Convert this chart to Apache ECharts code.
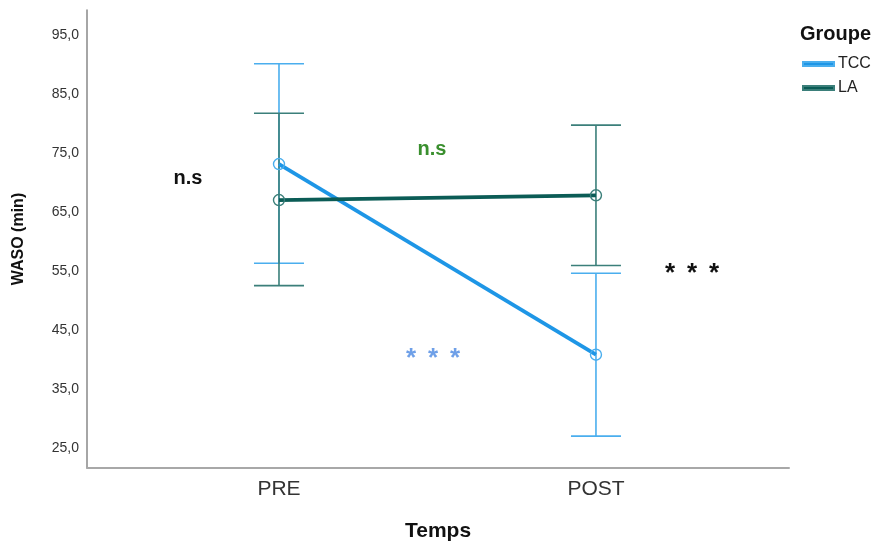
<!DOCTYPE html>
<html><head><meta charset="utf-8">
<script src="https://cdn.jsdelivr.net/npm/echarts@6/dist/echarts.min.js"></script>
<style>html,body{margin:0;padding:0;background:#fff}#c{width:876px;height:546px}</style>
</head><body><div id="c"></div>
<script>
var categories = ['PRE', 'POST'];
var catPos = [1, 2];
var groups = ['TCC', 'LA'];
var tccMean = [73.1, 40.8];
var tccLow = [56.3, 27.0];
var tccHigh = [90.1, 54.6];
var laMean = [67.0, 67.8];
var laLow = [52.5, 55.9];
var laHigh = [81.7, 79.7];
var yTicks = [25, 35, 45, 55, 65, 75, 85, 95];

var TCC_LINE = '#1e96e6', TCC_BAR = '#4aaeee';
var LA_LINE = '#0b5c56', LA_BAR = '#3b7f7a';
var FONT = 'Liberation Sans, Arial, sans-serif';

function errData(low, high) {
  return catPos.map(function (x, i) { return [x, low[i], high[i]]; });
}
function errSeries(name, low, high, color) {
  return {
    type: 'custom', name: name + ' err', z: 2, silent: true,
    data: errData(low, high),
    encode: { x: 0, y: [1, 2] },
    renderItem: function (params, api) {
      var x = api.value(0);
      var lo = api.coord([x, api.value(1)]);
      var hi = api.coord([x, api.value(2)]);
      var hw = 25;
      var st = { stroke: color, lineWidth: 1.6 };
      return { type: 'group', children: [
        { type: 'line', shape: { x1: lo[0], y1: lo[1], x2: hi[0], y2: hi[1] }, style: st },
        { type: 'line', shape: { x1: lo[0] - hw, y1: lo[1], x2: lo[0] + hw, y2: lo[1] }, style: st },
        { type: 'line', shape: { x1: hi[0] - hw, y1: hi[1], x2: hi[0] + hw, y2: hi[1] }, style: st }
      ]};
    }
  };
}
function meanSeries(name, mean, lineColor, symColor) {
  return {
    type: 'line', name: name, z: 3,
    data: catPos.map(function (x, i) { return [x, mean[i]]; }),
    symbol: 'circle', symbolSize: 11, showSymbol: true,
    lineStyle: { color: lineColor, width: 3.8 },
    itemStyle: { color: 'rgba(255,255,255,0)', borderColor: symColor, borderWidth: 1.4 }
  };
}
function stars(cx, cy, color) {
  return [-22, 0, 22].map(function (dx) {
    return { type: 'text', x: cx + dx, y: cy, style: { text: '*', font: 'bold 26px ' + FONT, fill: color, textAlign: 'center', textVerticalAlign: 'middle' } };
  });
}

var chart = echarts.init(document.getElementById('c'), null, { renderer: 'canvas' });
chart.setOption({
  animation: false,
  backgroundColor: '#fff',
  textStyle: { fontFamily: FONT },
  grid: { left: 87, right: 87, top: 10, bottom: 78, containLabel: false, outerBoundsMode: 'none' },
  title: {
    text: 'Groupe', left: 795, top: 19,
    textStyle: { fontSize: 20, fontWeight: 'bold', color: '#111', fontFamily: FONT }
  },
  legend: {
    data: [
      { name: 'TCC', itemStyle: { color: TCC_LINE } },
      { name: 'LA', itemStyle: { color: LA_LINE } }
    ],
    orient: 'vertical', left: 797, top: 51,
    itemWidth: 31, itemHeight: 4, itemGap: 8, icon: 'rect',
    textStyle: { fontSize: 16, color: '#222', padding: [0, 0, 0, -1] }
  },
  xAxis: {
    type: 'value', min: 0.3943, max: 2.609,
    name: 'Temps', nameLocation: 'middle', nameGap: 53,
    nameTextStyle: { fontSize: 21, fontWeight: 'bold', color: '#111' },
    axisLine: { lineStyle: { color: '#a8a8a8', width: 2 } },
    axisTick: { show: false },
    splitLine: { show: false },
    axisLabel: {
      customValues: catPos, fontSize: 21, color: '#333', margin: 11,
      formatter: function (v) { var i = catPos.indexOf(v); return i >= 0 ? categories[i] : ''; }
    }
  },
  yAxis: {
    type: 'value', min: 21.6, max: 99.2,
    name: 'WASO (min)', nameLocation: 'middle', nameGap: 60,
    nameTextStyle: { fontSize: 16, fontWeight: 'bold', color: '#111' },
    axisLine: { show: true, lineStyle: { color: '#888', width: 1.5 } },
    axisTick: { show: false },
    splitLine: { show: false },
    axisLabel: {
      customValues: yTicks, fontSize: 14, color: '#333', margin: 8,
      formatter: function (v) { return v.toFixed(1).replace('.', ','); }
    }
  },
  graphic: [
    { type: 'text', x: 188, y: 178, style: { text: 'n.s', font: 'bold 20px ' + FONT, fill: '#111', textAlign: 'center', textVerticalAlign: 'middle' } },
    { type: 'text', x: 432, y: 149, style: { text: 'n.s', font: 'bold 20px ' + FONT, fill: '#3a8f2e', textAlign: 'center', textVerticalAlign: 'middle' } }
  ].concat(stars(433, 359, '#6fa0e8')).concat(stars(692, 274, '#111')),
  series: [
    errSeries('TCC', tccLow, tccHigh, TCC_BAR),
    errSeries('LA', laLow, laHigh, LA_BAR),
    meanSeries('TCC', tccMean, TCC_LINE, TCC_BAR),
    meanSeries('LA', laMean, LA_LINE, LA_BAR)
  ]
});
</script></body></html>
